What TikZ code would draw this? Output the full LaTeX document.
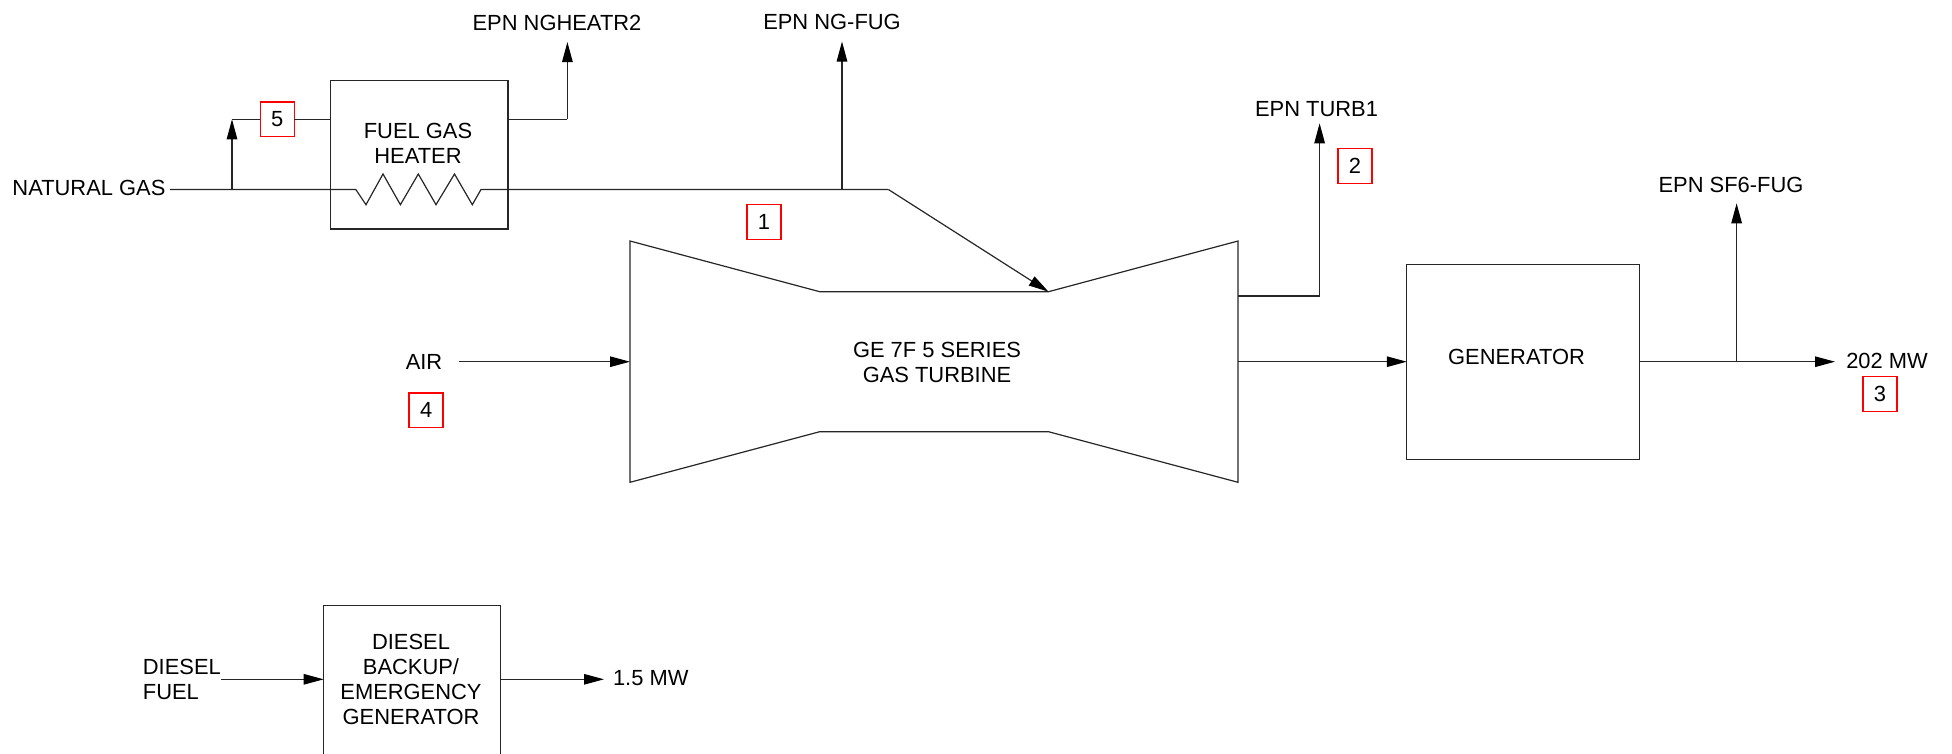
\documentclass[tikz,border=0pt]{standalone}
\usepackage{fontspec}
\setmainfont{Liberation Sans}
\usetikzlibrary{arrows.meta}
\tikzset{
  ln/.style={line width=1.2pt,color=black!85,line join=miter},
  arr/.style={ln,-{Triangle[length=20pt,width=10.5pt,color=black]}},
  unit/.style={draw=black!85,line width=1.2pt,inner sep=0pt,outer sep=0pt,fill=none},
  lbl/.style={inner sep=0pt,outer sep=0pt,align=center,font=\fontsize{21.9}{25}\selectfont,text=black},
  tag/.style={draw=red,line width=1.5pt,inner sep=0pt,outer sep=0pt,minimum width=34pt,minimum height=34.6pt,font=\fontsize{21.9}{25}\selectfont,text=black}
}
\begin{document}
\begin{tikzpicture}[x=1pt,y=-1pt]
\useasboundingbox (0,0) rectangle (1952,753);
\clip (0,0) rectangle (1952,753);
% boxes
\node[unit,minimum width=177.5pt,minimum height=148.5pt] (heater) at (419.25,154.75) {};
\node[unit,minimum width=232.8pt,minimum height=195pt] (gen) at (1523.2,361.8) {};
\node[unit,minimum width=177.1pt,minimum height=150pt] (diesel) at (412.25,680.3) {};
% turbine
\coordinate (t1) at (630,241);
\coordinate (t2) at (819.7,291.7);
\coordinate (t3) at (1048.5,291.7);
\coordinate (t4) at (1238,241);
\coordinate (t5) at (1238,482.3);
\coordinate (t6) at (1048.5,431.7);
\coordinate (t7) at (819.7,431.7);
\coordinate (t8) at (630,482.3);
\draw[ln] (t1) -- (t2) -- (t3) -- (t4) -- (t5) -- (t6) -- (t7) -- (t8) -- cycle;
% labels
\node[lbl] (lngh) at (557,22.5) {EPN NGHEATR2};
\node[lbl] (lngf) at (832,22) {EPN NG-FUG};
\node[lbl] (lturb) at (1316.5,109) {EPN TURB1};
\node[lbl] (lsf) at (1731,185) {EPN SF6-FUG};
\node[lbl,anchor=west] (lng) at (12.5,187.5) {NATURAL GAS};
\node[lbl] (lheat) at (418,143.5) {FUEL GAS\\HEATER};
\node[lbl] (lair) at (424,362) {AIR};
\node[lbl] (lgt) at (937,362) {GE 7F 5 SERIES\\GAS TURBINE};
\node[lbl] (lgen) at (1516.5,357) {GENERATOR};
\node[lbl] (lmw) at (1887,361) {202 MW};
\node[lbl,align=left,anchor=west] (ldf) at (142.9,679) {DIESEL\\FUEL};
\node[lbl] (ldb) at (411,679) {DIESEL\\BACKUP/\\EMERGENCY\\GENERATOR};
\node[lbl,anchor=west] (lkw) at (613,678) {1.5 MW};
% tags
\node[tag] (n1) at (764,222) {1};
\node[tag] (n2) at (1355,166) {2};
\node[tag] (n3) at (1880,394) {3};
\node[tag] (n4) at (426.2,410.3) {4};
\node[tag] (n5) at (277.3,119.3) {5};
% gas line
\coordinate (ng0) at (170,189.5);
\coordinate (bp) at (232,189.5);
\coordinate (bpt) at (232,119.3);
\coordinate (z0) at (355.8,189.5);
\coordinate (z1) at (366,204.7);
\coordinate (z2) at (383,174);
\coordinate (z3) at (400.4,204.7);
\coordinate (z4) at (418.3,174);
\coordinate (z5) at (436,204.7);
\coordinate (z6) at (454.5,174);
\coordinate (z7) at (472.3,204.7);
\coordinate (z8) at (481,189.5);
\coordinate (fug) at (842,189.5);
\coordinate (fugt) at (842,41.5);
\coordinate (kink) at (888.4,189.5);
\draw[ln] (ng0) -- (z0) -- (z1) -- (z2) -- (z3) -- (z4) -- (z5) -- (z6) -- (z7) -- (z8) -- (kink);
\draw[arr] (kink) -- (t3);
\draw[arr] (fug) -- (fugt);
\draw[arr] (bp) -- (bpt);
\draw[ln] (bpt) -- (n5.west);
\draw[ln] (n5.east) -- (n5.east -| heater.west);
\coordinate (ho) at (567.4,119.3);
\coordinate (hot) at (567.4,42);
\draw[ln] (ho -| heater.east) -- (ho);
\draw[arr] (ho) -- (hot);
% exhaust
\coordinate (ex0) at (1238,296);
\coordinate (ex1) at (1319.6,296);
\coordinate (ex2) at (1319.6,123.3);
\draw[ln] (ex0) -- (ex1);
\draw[arr] (ex1) -- (ex2);
% air and shaft
\coordinate (air0) at (458.6,361.7);
\coordinate (air1) at (630,361.7);
\draw[arr] (air0) -- (air1);
\coordinate (sh0) at (1238,361.7);
\draw[arr] (sh0) -- (sh0 -| gen.west);
% generator output
\coordinate (gb) at (1736.6,361.7);
\coordinate (gbt) at (1736.6,203.3);
\coordinate (gout) at (1835,361.7);
\draw[arr] (gb -| gen.east) -- (gout);
\draw[arr] (gb) -- (gbt);
% diesel
\coordinate (d0) at (221,679.3);
\coordinate (d1) at (604,679.3);
\draw[arr] (d0) -- (d0 -| diesel.west);
\draw[arr] (d1 -| diesel.east) -- (d1);
\end{tikzpicture}
\end{document}
